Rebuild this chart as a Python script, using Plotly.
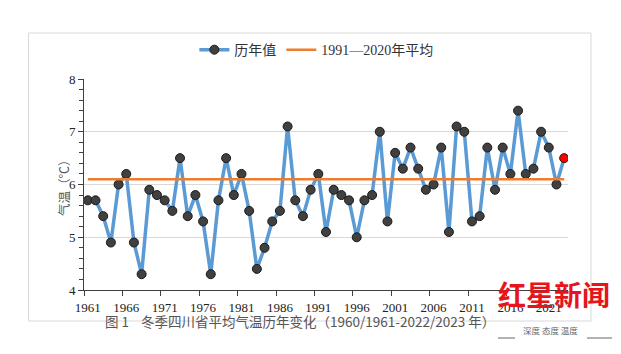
import plotly.graph_objects as go

years = list(range(1961, 2024))
temps = [5.7, 5.7, 5.4, 4.9, 6.0, 6.2, 4.9, 4.3, 5.9, 5.8,
         5.7, 5.5, 6.5, 5.4, 5.8, 5.3, 4.3, 5.7, 6.5, 5.8,
         6.2, 5.5, 4.4, 4.8, 5.3, 5.5, 7.1, 5.7, 5.4, 5.9,
         6.2, 5.1, 5.9, 5.8, 5.7, 5.0, 5.7, 5.8, 7.0, 5.3,
         6.6, 6.3, 6.7, 6.3, 5.9, 6.0, 6.7, 5.1, 7.1, 7.0,
         5.3, 5.4, 6.7, 5.9, 6.7, 6.2, 7.4, 6.2, 6.3, 7.0,
         6.7, 6.0, 6.5]
mean_1991_2020 = [6.1] * len(years)
tick_years = list(range(1961, 2024, 5))
tick_labels = [str(y) for y in tick_years]

marker_colors = ["#404040"] * (len(years) - 1) + ["#ff0000"]

serif = "Liberation Serif, Times New Roman, Noto Sans CJK SC, serif"
cjk = "Noto Sans CJK SC, sans-serif"

fig = go.Figure()
fig.add_trace(go.Scatter(
    x=years, y=temps, mode="lines+markers", name="历年值",
    line=dict(color="#5b9bd5", width=3.5),
    marker=dict(size=9, color=marker_colors, line=dict(color="#1a1a1a", width=1)),
))
fig.add_trace(go.Scatter(
    x=years, y=mean_1991_2020, mode="lines", name="1991—2020年平均",
    line=dict(color="#ed7d31", width=2.5),
))

fig.update_layout(
    width=621, height=354,
    margin=dict(l=84, r=53, t=79, b=64),
    paper_bgcolor="white", plot_bgcolor="white",
    font=dict(family=serif, size=13, color="#222222"),
    legend=dict(orientation="h", x=0.228, xanchor="left", y=1.137, yanchor="middle",
                font=dict(family=serif, size=14, color="#333333"),
                itemwidth=30, tracegroupgap=0, bgcolor="rgba(0,0,0,0)"),
    showlegend=True,
)
fig.update_xaxes(
    range=[1960.5, 2023.5], tickmode="array", tickvals=tick_years, ticktext=tick_labels,
    showgrid=False, showline=True, linecolor="#404040", linewidth=1,
    ticks="outside", ticklen=5, tickcolor="rgba(0,0,0,0)",
    minor=dict(tickmode="array", tickvals=[y - 0.5 for y in tick_years[:-1]],
               ticks="outside", ticklen=5, tickcolor="#404040", showgrid=False),
    tickfont=dict(family=serif, size=13, color="#222222"), zeroline=False,
)
fig.update_yaxes(
    range=[4, 8], tickmode="array", tickvals=[4, 5, 6, 7, 8],
    showgrid=True, gridcolor="#d9d9d9", gridwidth=1,
    showline=True, linecolor="#404040", linewidth=1,
    ticks="outside", ticklen=5, tickcolor="#404040",
    minor=dict(dtick=0.2, tick0=4, ticks="outside", ticklen=4, tickcolor="#404040", showgrid=False),
    tickfont=dict(family=serif, size=13, color="#222222"), zeroline=False,
)

def px_x(p):
    return (p - 84) / 484

def px_y(p):
    return (290 - p) / 211

# chart border
fig.add_shape(type="rect", xref="paper", yref="paper",
              x0=px_x(28.5), x1=px_x(591), y0=px_y(321), y1=px_y(33),
              line=dict(color="#d9d9d9", width=1), fillcolor="rgba(0,0,0,0)", layer="below")

fig.add_annotation(text="气温（℃）", xref="paper", yref="paper", x=px_x(52), y=0.5,
                   textangle=-90, showarrow=False,
                   font=dict(family=cjk, size=12.5, color="#555555"))
fig.add_annotation(text="图 1    冬季四川省平均气温历年变化（1960/1961-2022/2023 年）",
                   xref="paper", yref="paper", x=px_x(300), y=px_y(333),
                   showarrow=False,
                   font=dict(family=cjk, size=13.5, color="#555555"))

# watermark
fig.add_annotation(text="<b>红星新闻</b>", xref="paper", yref="paper",
                   x=px_x(612), xanchor="right", y=px_y(316), showarrow=False,
                   font=dict(family=cjk, size=28, color="#e8141c"))
fig.add_annotation(text="深度 态度 温度", xref="paper", yref="paper",
                   x=px_x(521), xanchor="left", y=px_y(338), showarrow=False,
                   font=dict(family=cjk, size=8.5, color="#666666"))
for a, b in [(498, 515), (587, 612)]:
    fig.add_shape(type="line", xref="paper", yref="paper",
                  x0=px_x(a), x1=px_x(b), y0=px_y(338), y1=px_y(338),
                  line=dict(color="#666666", width=1))

fig.write_html("out.html")
